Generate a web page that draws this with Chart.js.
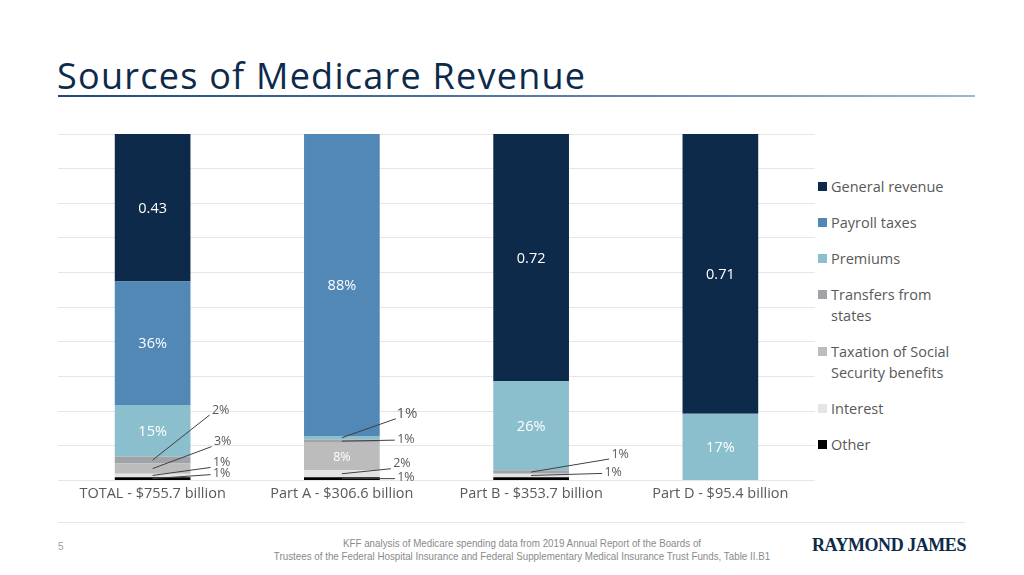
<!DOCTYPE html>
<html>
<head>
<meta charset="utf-8">
<script src="https://cdn.jsdelivr.net/npm/chart.js@4.4.1/dist/chart.umd.min.js"></script>
<style>
  body { margin: 0; width: 1024px; height: 575px; background: #fff; position: relative; overflow: hidden; font-family: "Open Sans", sans-serif; }
  #title { position: absolute; left: 57px; top: 51px; font-size: 36px; color: #0d2a4b; white-space: nowrap; letter-spacing: 1.25px; }
  #rule { position: absolute; left: 58px; top: 95px; width: 917px; height: 2px; background: linear-gradient(to right, #1f4a78, #5d84ad 60%, #9fb6cf); }
  #wrap { position: absolute; left: 58px; top: 126px; width: 757px; height: 374px; }
  #legend { position: absolute; left: 818px; top: 176px; width: 150px; }
  .item { position: relative; padding-left: 13px; line-height: 21px; font-size: 14.5px; color: #595959; margin-bottom: 15px; width: 128px; }
  .item span { position: absolute; left: 0; top: 6px; width: 9px; height: 9px; }
  #foot { position: absolute; left: 58px; top: 522px; width: 907px; height: 1px; background: #e6e6e6; }
  #page { position: absolute; left: 58px; top: 541px; font-size: 10px; color: #a0a0a0; font-family: "Liberation Sans", sans-serif; }
  #src { position: absolute; left: 222px; top: 537px; width: 600px; text-align: center; font-size: 11px; line-height: 13px; color: #8a8a8a; font-family: "Liberation Sans Narrow", "Liberation Sans", sans-serif; transform: scaleX(0.89); transform-origin: 300px 0; }
  #logo { position: absolute; left: 812px; top: 535px; font-family: "Liberation Serif", serif; font-weight: bold; font-size: 18px; color: #0d2a4b; letter-spacing: -0.45px; }
</style>
</head>
<body>
<div id="title">Sources of Medicare Revenue</div>
<div id="rule"></div>
<div id="wrap"><canvas id="chartRevenue"></canvas></div>
<div id="legend"></div>
<div id="foot"></div>
<div id="page">5</div>
<div id="src">KFF analysis of Medicare spending data from 2019 Annual Report of the Boards of<br>Trustees of the Federal Hospital Insurance and Federal Supplementary Medical Insurance Trust Funds, Table II.B1</div>
<div id="logo">RAYMOND JAMES</div>
<script>
const categories = ['TOTAL - $755.7 billion', 'Part A - $306.6 billion', 'Part B - $353.7 billion', 'Part D - $95.4 billion'];

const seriesNames = ['General revenue', 'Payroll taxes', 'Premiums', 'Transfers from states', 'Taxation of Social Security benefits', 'Interest', 'Other'];

// shares of each part's revenue (as printed on the chart)
const generalRevenue = [0.43, 0, 0.72, 0.71];
const payrollTaxes = [0.36, 0.88, 0, 0];
const premiums = [0.15, 0.01, 0.26, 0.17];
const transfersFromStates = [0.02, 0.01, 0.01, 0];
const taxationOfBenefits = [0.03, 0.08, 0, 0];
const interest = [0.01, 0.02, 0.01, 0];
const other = [0.01, 0.01, 0.01, 0];

const seriesValues = [generalRevenue, payrollTaxes, premiums, transfersFromStates, taxationOfBenefits, interest, other];
const seriesColors = ['#0e2a4b', '#5288b6', '#8bbfcd', '#a0a3a8', '#bcbcbc', '#e4e4e4', '#000000'];

// small segments labelled outside the bar: series index, category index, text offset
const callouts = [
  { s: 3, c: 0, dx: 68, dy: -50 },
  { s: 4, c: 0, dx: 70, dy: -27 },
  { s: 5, c: 0, dx: 69, dy: -13 },
  { s: 6, c: 0, dx: 69, dy: -5 },
  { s: 2, c: 1, dx: 65, dy: -24, size: 15 },
  { s: 3, c: 1, dx: 64, dy: -2 },
  { s: 5, c: 1, dx: 60, dy: -10 },
  { s: 6, c: 1, dx: 64, dy: -1 },
  { s: 3, c: 2, dx: 89, dy: -18 },
  { s: 5, c: 2, dx: 82, dy: -3 }
];

// 100% stacked: each column is scaled by its own total
const totals = categories.map((c, i) => seriesValues.reduce((a, v) => a + v[i], 0));

function fmt(s, v) {
  return s === 0 ? v.toFixed(2) : Math.round(v * 100) + '%';
}

const datasets = seriesNames.map((name, s) => ({
  label: name,
  raw: seriesValues[s],
  series: s,
  data: seriesValues[s].map((v, i) => v / totals[i]),
  backgroundColor: seriesColors[s],
  borderWidth: 0,
  barPercentage: 0.4,
  categoryPercentage: 1
})).reverse();

const segmentLabels = {
  id: 'segmentLabels',
  afterDatasetsDraw(chart) {
    const ctx = chart.ctx;
    ctx.save();
    ctx.textAlign = 'center';
    ctx.textBaseline = 'middle';
    const bars = {};
    chart.data.datasets.forEach((ds, di) => {
      const meta = chart.getDatasetMeta(di);
      meta.data.forEach((bar, i) => {
        bars[ds.series + '_' + i] = bar;
        const v = ds.raw[i];
        if (v < 0.05) return;
        const h = Math.abs(bar.base - bar.y);
        ctx.fillStyle = '#ffffff';
        ctx.font = (h < 35 ? '12.5px' : '14.5px') + ' "Open Sans"';
        ctx.fillText(fmt(ds.series, v), bar.x, (bar.y + bar.base) / 2 + 1);
      });
    });
    callouts.forEach(co => {
      const bar = bars[co.s + '_' + co.c];
      const y0 = (bar.y + bar.base) / 2;
      const tx = bar.x + co.dx;
      const ty = y0 + co.dy;
      ctx.strokeStyle = '#404040';
      ctx.lineWidth = 1;
      ctx.beginPath();
      ctx.moveTo(bar.x, y0);
      ctx.lineTo(tx - 11, ty + (co.dy < -8 ? 5 : 1));
      ctx.stroke();
      ctx.fillStyle = '#595959';
      ctx.font = (co.size || 12.5) + 'px "Open Sans"';
      ctx.fillText(fmt(co.s, seriesValues[co.s][co.c]), tx, ty);
    });
    ctx.restore();
  }
};

const ctx = document.getElementById('chartRevenue');

new Chart(ctx, {
  type: 'bar',
  data: { labels: categories, datasets: datasets },
  plugins: [segmentLabels],
  options: {
    responsive: true,
    maintainAspectRatio: false,
    animation: false,
    layout: { padding: { top: 8, left: 0, right: 0, bottom: 0 } },
    plugins: {
      legend: { display: false },
      tooltip: { enabled: false }
    },
    scales: {
      x: {
        stacked: true,
        grid: { display: false },
        border: { display: false },
        ticks: { color: '#595959', font: { family: 'Open Sans', size: 14.5 }, padding: -3 }
      },
      y: {
        stacked: true,
        min: 0,
        max: 1,
        ticks: { display: false, stepSize: 0.1 },
        grid: { color: '#e6e6e6', drawTicks: false },
        border: { display: false }
      }
    }
  }
});

const legend = document.getElementById('legend');
seriesNames.forEach((name, s) => {
  const d = document.createElement('div');
  d.className = 'item';
  d.innerHTML = '<span style="background:' + seriesColors[s] + '"></span>' + name;
  legend.appendChild(d);
});
</script>
</body>
</html>
